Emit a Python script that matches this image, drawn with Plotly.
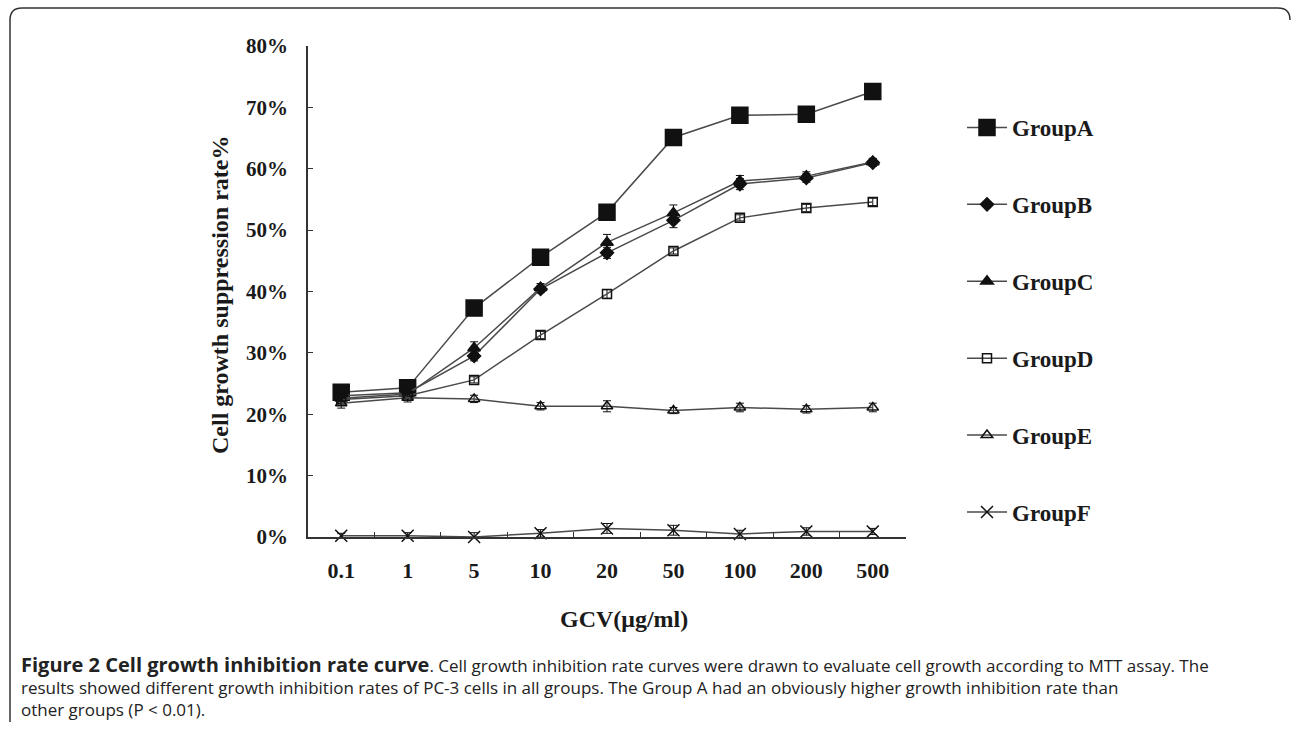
import plotly.graph_objects as go

W, H = 1293, 731

conc = ["0.1", "1", "5", "10", "20", "50", "100", "200", "500"]
group_a = [23.6, 24.3, 37.3, 45.6, 52.9, 65.1, 68.7, 68.9, 72.6]
group_b = [23.0, 23.5, 29.5, 40.4, 46.3, 51.6, 57.5, 58.5, 61.0]
group_c = [22.6, 23.3, 30.8, 40.6, 48.0, 52.8, 58.0, 58.8, 61.1]
group_d = [22.4, 23.0, 25.6, 32.9, 39.6, 46.6, 52.0, 53.6, 54.6]
group_e = [21.8, 22.7, 22.5, 21.3, 21.3, 20.6, 21.1, 20.8, 21.1]
group_f = [0.2, 0.2, 0.0, 0.6, 1.4, 1.1, 0.5, 0.9, 0.9]

err_a = [0.8, 0.6, 0.5, 0.6, 0.8, 0.6, 0.5, 0.5, 0.6]
err_b = [0.7, 0.6, 0.8, 0.6, 0.9, 1.2, 0.9, 0.7, 0.6]
err_c = [0.8, 0.7, 1.0, 0.7, 1.3, 1.3, 0.9, 0.7, 0.6]
err_d = [0.6, 0.5, 0.5, 0.6, 0.7, 0.5, 0.5, 0.6, 0.6]
err_e = [0.8, 0.7, 0.6, 0.6, 0.9, 0.5, 0.7, 0.6, 0.7]
err_f = [0.4, 0.5, 0.7, 0.6, 0.8, 0.8, 0.6, 0.6, 0.5]

names = ["GroupA", "GroupB", "GroupC", "GroupD", "GroupE", "GroupF"]
series = [group_a, group_b, group_c, group_d, group_e, group_f]
errors = [err_a, err_b, err_c, err_d, err_e, err_f]
symbols = ["square", "diamond", "triangle-up", "square-open", "triangle-up-open", "x-thin"]
sizes = [16, 10, 11, 9, 10, 12]

y_ticks = [0, 10, 20, 30, 40, 50, 60, 70, 80]
y_ticktext = [f"{v}%" for v in y_ticks]

LINE = "#4a4a4a"
INK = "#111111"
SERIF = "Liberation Serif"

fig = go.Figure()
for name, ys, es, sym, sz in zip(names, series, errors, symbols, sizes):
    fig.add_trace(go.Scatter(
        x=conc, y=ys, name=name, mode="lines+markers",
        legendgroup=name,
        line=dict(color=LINE, width=1.5),
        marker=dict(symbol=sym, size=sz, color=INK,
                    line=dict(color=INK, width=1.5)),
        error_y=dict(type="data", array=es, visible=True,
                     color=INK, thickness=1, width=4),
        cliponaxis=False,
    ))

def px(x):
    return x / W

def py(y):
    return 1 - y / H

fig.update_layout(
    width=W, height=H,
    margin=dict(l=0, r=0, t=0, b=0, autoexpand=False),
    paper_bgcolor="white", plot_bgcolor="white",
    showlegend=True,
    legend=dict(
        x=px(962), y=py(106), xanchor="left", yanchor="top",
        font=dict(family=SERIF, size=23, color="#1a1a1a", weight="bold"),
        tracegroupgap=44, itemwidth=40, bgcolor="rgba(0,0,0,0)",
    ),
    xaxis=dict(
        domain=[px(308), px(906)], type="category", range=[-0.5, 8.5],
        showline=True, linecolor="#333333", linewidth=1.5,
        ticks="inside", tickson="boundaries", ticklen=5, tickcolor="#333333",
        showgrid=False, zeroline=False,
        tickfont=dict(family=SERIF, size=22, color="#1a1a1a", weight="bold"),
        ticklabelstandoff=13,
    ),
    yaxis=dict(
        domain=[py(537), py(46)], range=[0, 80],
        tickmode="array", tickvals=y_ticks, ticktext=y_ticktext,
        showline=True, linecolor="#333333", linewidth=1.5,
        ticks="inside", ticklen=5, tickcolor="#333333",
        showgrid=False, zeroline=False,
        tickfont=dict(family=SERIF, size=21, color="#1a1a1a", weight="bold"),
        ticklabelstandoff=14,
    ),
)

caption_text = (
    "<b><span style='font-size:20px'>Figure 2 Cell growth inhibition rate curve</span></b>. "
    "Cell growth inhibition rate curves were drawn to evaluate cell growth according to MTT assay. The"
    "<br>results showed different growth inhibition rates of PC-3 cells in all groups. "
    "The Group A had an obviously higher growth inhibition rate than"
    "<br>other groups (P &lt; 0.01)."
)

annotations = [
    dict(text="Cell growth suppression rate%", x=px(220), y=py(295),
         xref="paper", yref="paper", showarrow=False, textangle=-90,
         xanchor="center", yanchor="middle",
         font=dict(family=SERIF, size=24, color="#1a1a1a", weight="bold")),
    dict(text="GCV(μg/ml)", x=px(624), y=py(619),
         xref="paper", yref="paper", showarrow=False,
         xanchor="center", yanchor="middle",
         font=dict(family=SERIF, size=24, color="#1a1a1a", weight="bold")),
    dict(text=caption_text, x=px(19), y=py(649), xref="paper", yref="paper",
         showarrow=False, xanchor="left", yanchor="top", align="left",
         font=dict(family="Open Sans", size=17, color="#222222")),
]
fig.update_layout(annotations=annotations)

# rounded frame (left edge, top-left corner, top edge, top-right corner)
frame_path = (
    f"M {px(10)},{py(722)} L {px(10)},{py(20)} Q {px(10)},{py(8)} {px(22)},{py(8)} "
    f"L {px(1278)},{py(8)} Q {px(1290)},{py(8)} {px(1290)},{py(20)}"
)
fig.add_shape(type="path", path=frame_path, xref="paper", yref="paper",
              line=dict(color="#333333", width=1.5))

fig.write_html(
    "out.html",
    config={"displayModeBar": False},
    post_script="document.body.style.margin='0';document.body.style.overflow='hidden';",
)
